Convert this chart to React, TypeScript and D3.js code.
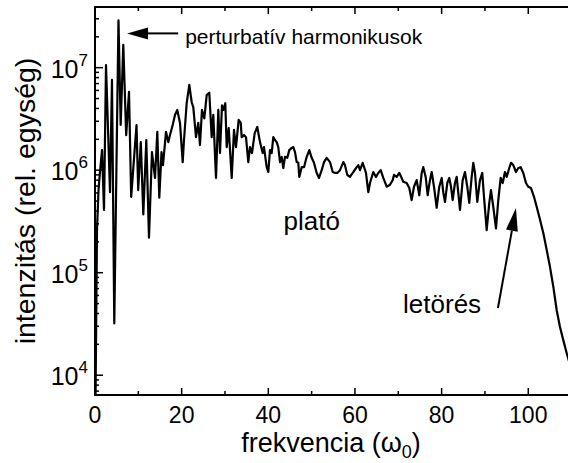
import React from 'react';
import * as d3 from 'd3';

// Harmonic spectrum: frequency (in units of ω0) and intensity (rel. units)
const frequency = [
  0.12, 0.46, 0.81, 1.15, 1.62, 2.08, 2.54, 3.46, 3.92, 4.45,
  5.42, 5.93, 6.53, 7.2, 7.85, 8.35, 9.58, 9.97, 10.57, 11.15,
  11.84, 12.46, 13.15, 13.85, 14.38, 14.84, 15.35, 15.69, 16.39, 16.92,
  17.31, 17.93, 18.46, 18.99, 19.62, 20.24, 20.54, 21.16, 21.76, 22.32,
  22.69, 23.31, 23.84, 24.23, 24.69, 25.23, 25.78, 26.38, 26.93, 27.3,
  27.93, 28.46, 28.85, 29.31, 29.61, 30.07, 30.4, 30.86, 31.55, 32.08,
  32.54, 33.16, 33.63, 33.86, 34.39, 34.85, 35.38, 35.77, 36.23, 36.86,
  37.46, 38.08, 38.7, 39.0, 39.63, 40.0, 40.39, 40.78, 41.15, 41.54,
  41.93, 42.3, 42.7, 43.09, 43.46, 43.85, 44.38, 44.84, 45.4, 45.77,
  46.16, 46.55, 46.92, 47.15, 47.7, 48.24, 48.86, 49.46, 50.01, 50.54,
  51.17, 51.7, 52.32, 52.85, 53.47, 54.24, 54.86, 55.39, 55.92, 56.54,
  57.31, 57.7, 58.23, 58.85, 59.61, 60.4, 60.77, 61.16, 61.78, 62.54,
  63.08, 63.47, 64.23, 64.85, 65.38, 65.94, 66.54, 67.32, 68.08, 68.71,
  69.01, 69.63, 70.23, 70.78, 71.15, 71.94, 72.54, 73.09, 73.62, 74.24,
  74.85, 75.4, 75.77, 76.32, 76.78, 77.31, 77.71, 78.24, 78.86, 79.46,
  80.02, 80.38, 80.78, 81.31, 81.77, 82.16, 82.55, 83.08, 83.48, 83.85,
  84.24, 84.86, 85.39, 85.92, 86.38, 86.94, 87.31, 87.7, 88.23, 88.85,
  89.38, 89.78, 90.4, 91.0, 91.39, 91.92, 92.55, 93.08, 93.63, 94.09,
  94.62, 95.01, 95.62, 96.01, 96.54, 97.16, 97.69, 98.24, 98.85, 99.47,
  100.0, 100.63, 101.32, 101.94, 102.7, 103.47, 104.25, 105.01, 105.78, 106.56,
  107.32, 108.08, 108.86, 109.63,
];

const intensity = [
  5.7e3, 2.6e5, 6.4e5, 9.6e5, 1.57e6, 4.1e5, 1.06e7, 6.1e5, 7.6e6, 3.2e4,
  2.9e7, 2.76e6, 1.67e7, 2.2e6, 5.8e6, 5.5e5, 2.76e6, 6.4e5, 1.88e6, 3.7e5,
  1.97e6, 2.2e5, 1.5e6, 8.4e5, 2.36e6, 5.4e5, 1.5e6, 1.12e6, 2.36e6, 1.88e6,
  2.2e6, 2.76e6, 3.46e6, 3.87e6, 2.89e6, 1.2e6, 1.97e6, 4.5e6, 6.8e6, 4.6e6,
  4.1e6, 2.1e6, 2.9e6, 1.76e6, 3.87e6, 3.2e6, 5.4e6, 5.7e6, 2.1e6, 3.46e6,
  8.4e5, 3.87e6, 1.47e6, 4.3e6, 3.87e6, 4.5e6, 1.68e6, 2.58e6, 8.4e5, 2.47e6,
  1.68e6, 3.1e6, 2.9e6, 2.1e6, 2.2e6, 2.1e6, 1.2e6, 1.68e6, 1.47e6, 2.3e6,
  2.64e6, 1.88e6, 1.47e6, 1.68e6, 1.07e6, 9.6e5, 1.57e6, 1.47e6, 2.1e6, 1.97e6,
  1.88e6, 1.68e6, 1.2e6, 1.35e6, 1.05e6, 1.35e6, 1.32e6, 1.57e6, 1.65e6, 1.68e6,
  1.5e6, 1.2e6, 1.18e6, 8.6e5, 1.07e6, 1.07e6, 1.35e6, 1.57e6, 1.32e6, 1.18e6,
  9.4e5, 8.4e5, 1.0e6, 1.2e6, 1.32e6, 1.2e6, 9.6e5, 9.4e5, 9.4e5, 1.0e6,
  1.2e6, 1.12e6, 9.0e5, 8.6e5, 9.6e5, 1.07e6, 1.12e6, 1.0e6, 1.18e6, 9.4e5,
  6.1e5, 7.5e5, 9.6e5, 8.6e5, 9.4e5, 1.0e6, 8.4e5, 6.9e5, 7.2e5, 8.0e5,
  9.0e5, 8.6e5, 9.4e5, 8.4e5, 7.7e5, 7.5e5, 6.7e5, 5.1e5, 6.9e5, 8.0e5,
  5.7e5, 9.4e5, 1.07e6, 8.6e5, 5.7e5, 8.0e5, 9.6e5, 6.9e5, 4.3e5, 6.9e5,
  8.4e5, 6.1e5, 4.9e5, 7.5e5, 8.4e5, 6.9e5, 5.1e5, 7.5e5, 8.6e5, 6.0e5,
  4.1e5, 8.0e5, 9.6e5, 6.9e5, 4.8e5, 8.6e5, 1.18e6, 9.4e5, 4.9e5, 8.0e5,
  9.4e5, 5.5e5, 2.6e5, 4.8e5, 6.4e5, 4.4e5, 2.7e5, 5.1e5, 8.4e5, 7.5e5,
  9.6e5, 8.6e5, 1.05e6, 1.18e6, 1.12e6, 9.6e5, 1.05e6, 1.07e6, 9.4e5, 7.5e5,
  6.9e5, 6.7e5, 5.5e5, 4.4e5, 3.3e5, 2.44e5, 1.67e5, 1.14e5, 7.3e4, 4.3e4,
  2.95e4, 2.2e4, 1.65e4, 1.26e4,
];

const xMajorTicks = [0, 20, 40, 60, 80, 100];
const xMinorTicks = [10, 30, 50, 70, 90, 110];
const yDecades = [4, 5, 6, 7];

const xTitle = 'frekvencia (ω';
const yTitle = 'intenzitás (rel. egység)';
const annoPerturb = 'perturbatív harmonikusok';
const annoPlateau = 'plató';
const annoCutoff = 'letörés';

const W = 568;
const H = 463;
const LEFT = 95;
const TOP = 7;
const BOTTOM = 395;
const FONT = "'Liberation Sans', Arial, Helvetica, sans-serif";

export default function App() {
  const x = d3.scaleLinear().domain([0, 110]).range([LEFT, 571.6]);
  const y = d3.scaleLog().domain([6412, 3.908e7]).range([BOTTOM, TOP]);

  const idx = d3.range(frequency.length);
  const line = d3
    .line<number>()
    .x((i) => x(frequency[i]))
    .y((i) => y(intensity[i]));

  const [yLo, yHi] = y.domain();
  const yMinor: number[] = [];
  for (let n = 3; n <= 7; n++) {
    for (let k = 2; k <= 9; k++) {
      const v = k * Math.pow(10, n);
      if (v >= yLo && v <= yHi) yMinor.push(v);
    }
  }

  // annotation anchors in data space
  const a1Tip = [7.4, 2.16e7];
  const a1Tail = [19.2, 2.16e7];
  const a2Tip = [97.16, 4.28e5];
  const a2Tail = [93.0, 4.53e4];

  const arrowHead = (tx: number, ty: number, fx: number, fy: number, len: number, hw: number) => {
    const dx = tx - fx;
    const dy = ty - fy;
    const L = Math.hypot(dx, dy);
    const ux = dx / L;
    const uy = dy / L;
    const bx = tx - ux * len;
    const by = ty - uy * len;
    const px = -uy;
    const py = ux;
    return {
      pts: `${tx},${ty} ${bx + px * hw},${by + py * hw} ${bx - px * hw},${by - py * hw}`,
      bx,
      by,
    };
  };

  const h1 = arrowHead(x(a1Tip[0]), y(a1Tip[1]), x(a1Tail[0]), y(a1Tail[1]), 21, 6);
  const h2 = arrowHead(x(a2Tip[0]), y(a2Tip[1]), x(a2Tail[0]), y(a2Tail[1]), 23, 6);

  return (
    <svg
      width={W}
      height={H}
      style={{ position: 'absolute', left: 0, top: 0, background: '#fff' }}
      fontFamily={FONT}
    >
      <defs>
        <clipPath id="plotClip">
          <rect x={LEFT} y={TOP} width={W - LEFT} height={BOTTOM - TOP} />
        </clipPath>
      </defs>
      <rect x={0} y={0} width={W} height={H} fill="#fff" />

      <path
        d={line(idx) || ''}
        fill="none"
        stroke="#000"
        strokeWidth={2.2}
        strokeLinejoin="round"
        clipPath="url(#plotClip)"
      />

      {/* axes frame */}
      <g stroke="#000" strokeWidth={2} fill="none">
        <line x1={LEFT} y1={TOP} x2={LEFT} y2={BOTTOM + 1} />
        <line x1={LEFT - 1} y1={BOTTOM} x2={W} y2={BOTTOM} />
        <line x1={LEFT - 1} y1={TOP} x2={W} y2={TOP} />
      </g>

      {/* ticks */}
      <g stroke="#000" strokeWidth={1.5}>
        {xMajorTicks.map((t) => (
          <g key={'xm' + t}>
            <line x1={x(t)} x2={x(t)} y1={BOTTOM} y2={BOTTOM - 7} />
            <line x1={x(t)} x2={x(t)} y1={TOP} y2={TOP + 7} />
          </g>
        ))}
        {xMinorTicks.map((t) => (
          <g key={'xn' + t}>
            <line x1={x(t)} x2={x(t)} y1={BOTTOM} y2={BOTTOM - 4} />
            <line x1={x(t)} x2={x(t)} y1={TOP} y2={TOP + 4} />
          </g>
        ))}
        {yDecades.map((d) => (
          <line key={'yd' + d} x1={LEFT} x2={LEFT + 8} y1={y(Math.pow(10, d))} y2={y(Math.pow(10, d))} />
        ))}
        {yMinor.map((v) => (
          <line key={'ym' + v} x1={LEFT} x2={LEFT + 4} y1={y(v)} y2={y(v)} />
        ))}
      </g>

      {/* x tick labels */}
      <g fontSize={23} textAnchor="middle" fill="#000">
        {xMajorTicks.map((t) => (
          <text key={'xl' + t} x={x(t)} y={BOTTOM + 28}>
            {t}
          </text>
        ))}
      </g>

      {/* y tick labels */}
      <g fontSize={25} textAnchor="end" fill="#000">
        {yDecades.map((d) => (
          <text key={'yl' + d} x={LEFT - 7} y={y(Math.pow(10, d)) + 10}>
            10
            <tspan fontSize={17} dy={-12}>
              {d}
            </tspan>
          </text>
        ))}
      </g>

      {/* axis titles */}
      <text x={331} y={452} fontSize={27} textAnchor="middle" fill="#000">
        {xTitle}
        <tspan fontSize={18} dy={6}>0</tspan>
        <tspan dy={-6}>)</tspan>
      </text>
      <text
        transform={`translate(35, 201) rotate(-90)`}
        fontSize={28.5}
        textAnchor="middle"
        fill="#000"
      >
        {yTitle}
      </text>

      {/* annotations */}
      <line
        x1={x(a1Tail[0])}
        y1={y(a1Tail[1])}
        x2={h1.bx}
        y2={h1.by}
        stroke="#000"
        strokeWidth={2}
      />
      <polygon points={h1.pts} fill="#000" />
      <text x={x(a1Tail[0]) + 7} y={y(a1Tail[1]) + 11} fontSize={21} fill="#000">
        {annoPerturb}
      </text>

      <text x={x(43.5)} y={y(2.6e5)} fontSize={26} fill="#000">
        {annoPlateau}
      </text>

      <text x={x(71.1)} y={y(4.05e4)} fontSize={26} fill="#000">
        {annoCutoff}
      </text>
      <line
        x1={x(a2Tail[0])}
        y1={y(a2Tail[1])}
        x2={h2.bx}
        y2={h2.by}
        stroke="#000"
        strokeWidth={2}
      />
      <polygon points={h2.pts} fill="#000" />
    </svg>
  );
}
